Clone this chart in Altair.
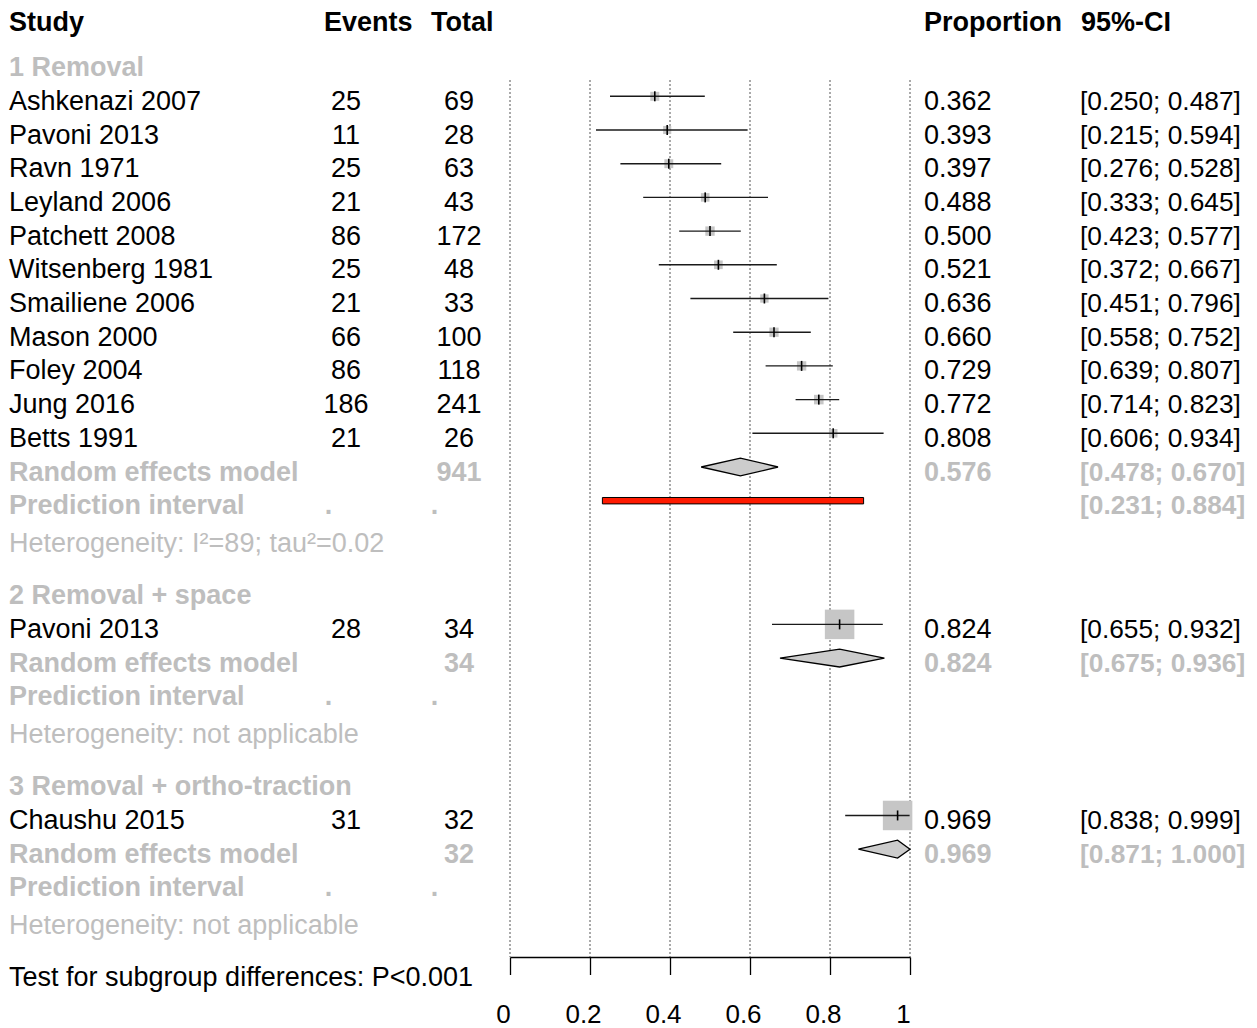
import altair as alt
import pandas as pd

# ---------------- data ----------------
group_names = ["1 Removal", "2 Removal + space", "3 Removal + ortho-traction"]
study_names = ["Ashkenazi 2007", "Pavoni 2013", "Ravn 1971", "Leyland 2006", "Patchett 2008",
               "Witsenberg 1981", "Smailiene 2006", "Mason 2000", "Foley 2004", "Jung 2016",
               "Betts 1991", "Pavoni 2013", "Chaushu 2015"]
study_group = [1, 1, 1, 1, 1, 1, 1, 1, 1, 1, 1, 2, 3]
events = [25, 11, 25, 21, 86, 25, 21, 66, 86, 186, 21, 28, 31]
totals = [69, 28, 63, 43, 172, 48, 33, 100, 118, 241, 26, 34, 32]
props = [0.362, 0.393, 0.397, 0.488, 0.500, 0.521, 0.636, 0.660, 0.729, 0.772, 0.808, 0.824, 0.969]
ci_low = [0.250, 0.215, 0.276, 0.333, 0.423, 0.372, 0.451, 0.558, 0.639, 0.714, 0.606, 0.655, 0.838]
ci_high = [0.487, 0.594, 0.528, 0.645, 0.577, 0.667, 0.796, 0.752, 0.807, 0.823, 0.934, 0.932, 0.999]
weights = [9.3, 7.6, 9.1, 8.4, 10.1, 8.6, 8.0, 9.8, 10.0, 10.5, 8.4, 100.0, 100.0]

re_total = [941, 34, 32]
re_est = [0.576, 0.824, 0.969]
re_low = [0.478, 0.675, 0.871]
re_high = [0.670, 0.936, 1.000]
pi_low = [0.231, None, None]
pi_high = [0.884, None, None]
heterogeneity = ["Heterogeneity: I²=89; tau²=0.02",
                 "Heterogeneity: not applicable",
                 "Heterogeneity: not applicable"]
subgroup_test = "Test for subgroup differences: P<0.001"
header_labels = ["Study", "Events", "Total", "Proportion", "95%-CI"]
x_ticks = [0, 0.2, 0.4, 0.6, 0.8, 1]

# ---------------- styling / layout ----------------
FONT = "Liberation Sans"
FS = 27
GREY = "#bebebe"
BLACK = "#000000"

YS = alt.Scale(domain=[0, 25], range=[88.3, 930.8])
XS = alt.Scale(domain=[0, 1], range=[502, 902])
XAX = alt.Axis(values=x_ticks, format=".1~f", grid=False, domainColor="black", domainWidth=1.3,
               tickColor="black", tickWidth=1.3, tickSize=17.5, labelFontSize=26, labelFont=FONT,
               labelColor="black", labelPadding=27, labelOffset=-7, labelFlush=False, title=None)

cells = []      # text cells: line, text, col, bold, color
study_rows = []
diamond_pts = []
pi_rows = []

def fmt_ci(lo, hi):
    return f"[{lo:.3f}; {hi:.3f}]"

HEADER_LINE = -2.33
for lab, col in zip(header_labels, ["study", "hdr_events", "hdr_total", "prop", "hdr_ci"]):
    cells.append(dict(line=HEADER_LINE, text=lab, col=col, bold=True, color=BLACK))

pos = -1.0
for g in range(3):
    cells.append(dict(line=pos, text=group_names[g], col="study", bold=True, color=GREY))
    for i in range(len(study_names)):
        if study_group[i] != g + 1:
            continue
        pos += 1
        cells.append(dict(line=pos, text=study_names[i], col="study", bold=False, color=BLACK))
        cells.append(dict(line=pos, text=str(events[i]), col="events", bold=False, color=BLACK))
        cells.append(dict(line=pos, text=str(totals[i]), col="total", bold=False, color=BLACK))
        cells.append(dict(line=pos, text=f"{props[i]:.3f}", col="prop", bold=False, color=BLACK))
        cells.append(dict(line=pos, text=fmt_ci(ci_low[i], ci_high[i]), col="ci", bold=False, color=BLACK))
        study_rows.append(dict(line=pos, est=props[i], lo=ci_low[i], hi=ci_high[i], w=weights[i]))
    # random effects
    pos += 1
    cells.append(dict(line=pos, text="Random effects model", col="study", bold=True, color=GREY))
    cells.append(dict(line=pos, text=str(re_total[g]), col="total", bold=True, color=GREY))
    cells.append(dict(line=pos, text=f"{re_est[g]:.3f}", col="prop", bold=True, color=GREY))
    cells.append(dict(line=pos, text=fmt_ci(re_low[g], re_high[g]), col="ci", bold=True, color=GREY))
    h = 0.265
    diamond_pts.append(dict(grp=g, x=re_low[g], y1=pos, y2=pos))
    diamond_pts.append(dict(grp=g, x=re_est[g], y1=pos - h, y2=pos + h))
    diamond_pts.append(dict(grp=g, x=re_high[g], y1=pos, y2=pos))
    # prediction interval
    pos += 1
    cells.append(dict(line=pos, text="Prediction interval", col="study", bold=True, color=GREY))
    cells.append(dict(line=pos, text=".", col="dot_e", bold=True, color=GREY))
    cells.append(dict(line=pos, text=".", col="dot_t", bold=True, color=GREY))
    if pi_low[g] is not None:
        cells.append(dict(line=pos, text=fmt_ci(pi_low[g], pi_high[g]), col="ci", bold=True, color=GREY))
        pi_rows.append(dict(lo=pi_low[g], hi=pi_high[g], y1=pos - 0.095, y2=pos + 0.095))
    # heterogeneity
    pos += 1.12
    cells.append(dict(line=pos, text=heterogeneity[g], col="study", bold=False, color=GREY))
    pos += 1.55

cells.append(dict(line=pos, text=subgroup_test, col="study", bold=False, color=BLACK))

cells = pd.DataFrame(cells)
study_df = pd.DataFrame(study_rows)
diamond_df = pd.DataFrame(diamond_pts)
pi_df = pd.DataFrame(pi_rows)
tick_df = pd.DataFrame({"t": x_ticks})

# column: (x, align, font size)
columns = {
    "study": (1, "left", FS),
    "events": (338, "center", FS),
    "total": (451, "center", FS),
    "prop": (916, "left", FS),
    "ci": (1072, "left", 26.3),
    "dot_e": (320.5, "center", FS),
    "dot_t": (426.5, "center", FS),
    "hdr_events": (316, "left", FS),
    "hdr_total": (423, "left", FS),
    "hdr_ci": (1073, "left", FS),
}

layers = []

# dotted reference lines + axis
layers.append(
    alt.Chart(tick_df).mark_rule(strokeDash=[2, 2], color="#555555", strokeWidth=1).encode(
        x=alt.X("t:Q", scale=XS, axis=XAX), y=alt.value(72), y2=alt.value(949))
)
# squares (weights)
layers.append(
    alt.Chart(study_df).mark_square(color="#c6c6c6", opacity=1).encode(
        x=alt.X("est:Q", scale=XS, axis=XAX), y=alt.Y("line:Q", scale=YS, axis=None),
        size=alt.Size("w:Q", scale=alt.Scale(domain=[0, 100], range=[0, 870]), legend=None))
)
# CI lines
layers.append(
    alt.Chart(study_df).mark_rule(color="#1a1a1a", strokeWidth=1.4).encode(
        x=alt.X("lo:Q", scale=XS, axis=XAX), x2="hi:Q", y=alt.Y("line:Q", scale=YS, axis=None))
)
# point estimate ticks
layers.append(
    alt.Chart(study_df).mark_point(shape="M0,-1L0,1", size=100, filled=False, color="black",
                                   strokeWidth=1.6, opacity=1).encode(
        x=alt.X("est:Q", scale=XS, axis=XAX), y=alt.Y("line:Q", scale=YS, axis=None))
)
# diamonds
layers.append(
    alt.Chart(diamond_df).mark_area(color="#cccccc", stroke="black", strokeWidth=1.3, opacity=1,
                                    orient="vertical").encode(
        x=alt.X("x:Q", scale=XS, axis=XAX), y=alt.Y("y1:Q", scale=YS, axis=None), y2="y2:Q",
        detail="grp:N")
)
# prediction interval bar
layers.append(
    alt.Chart(pi_df).mark_rect(color="#ff1a00", stroke="black", strokeWidth=1).encode(
        x=alt.X("lo:Q", scale=XS, axis=XAX), x2="hi:Q",
        y=alt.Y("y1:Q", scale=YS, axis=None), y2="y2:Q")
)

# text columns
for col, (xpos, align, fs) in columns.items():
    for bold in (True, False):
        sub = cells[(cells["col"] == col) & (cells["bold"] == bold)]
        if len(sub) == 0:
            continue
        layers.append(
            alt.Chart(sub).mark_text(align=align, baseline="alphabetic", dy=13.5, fontSize=fs,
                                     font=FONT, fontWeight="bold" if bold else "normal").encode(
                x=alt.value(xpos), y=alt.Y("line:Q", scale=YS, axis=None),
                text="text:N", color=alt.Color("color:N", scale=None))
        )

chart = alt.layer(*layers).properties(
    width=1241, height=949,
    autosize=alt.AutoSizeParams(type="none"),
    padding={"left": 0, "top": 0, "right": 0, "bottom": 71},
    background="white",
).configure_view(stroke=None)

chart.save("out.html", embed_options={"renderer": "svg", "actions": False})
